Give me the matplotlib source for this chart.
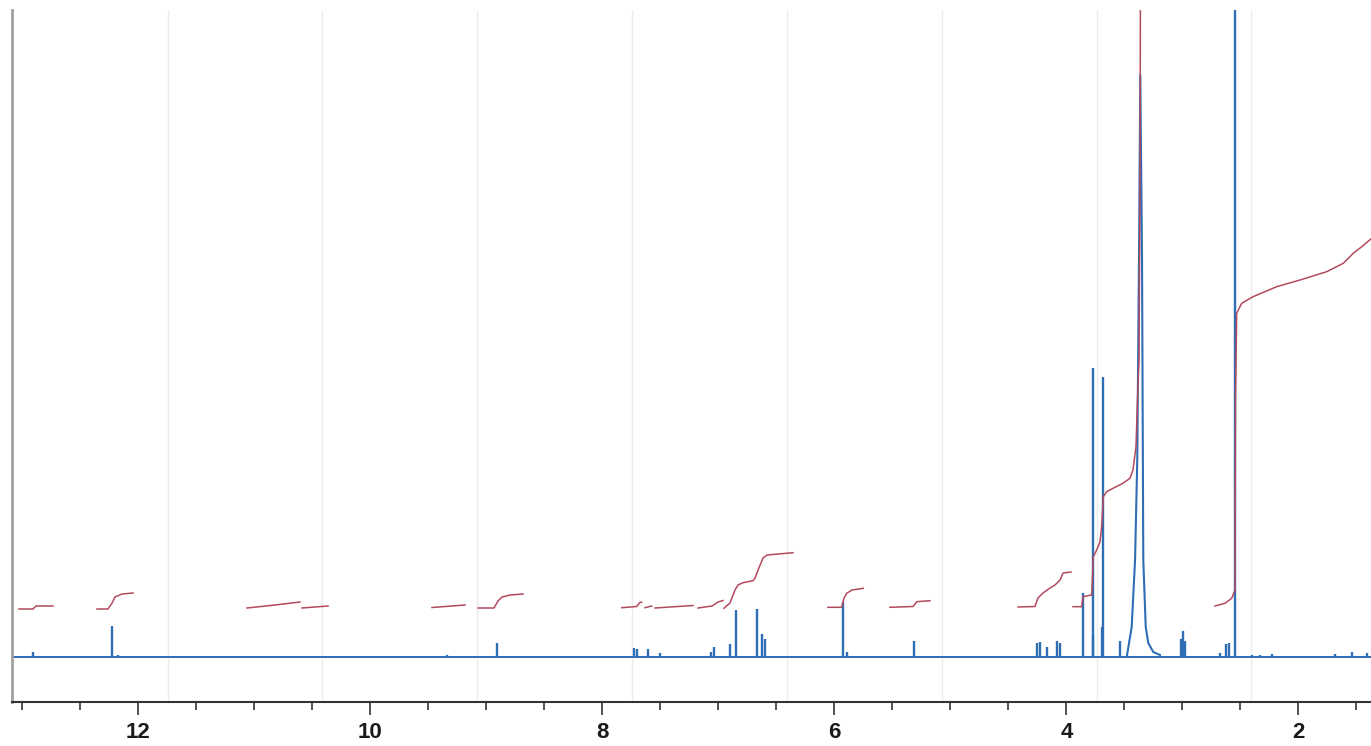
import matplotlib
matplotlib.use('Agg')
import matplotlib.pyplot as plt
from matplotlib.ticker import MultipleLocator, FixedLocator

# --- data (ppm, height above baseline) ---
peak_ppm = [12.909, 12.737, 12.231, 12.177, 9.341, 8.907, 8.211,
            7.728, 7.705, 7.608, 7.504, 7.065, 7.043, 6.901, 6.849,
            6.671, 6.622, 6.600, 5.929, 5.892, 5.312,
            4.254, 4.228, 4.171, 4.082, 4.056, 3.860,
            3.775, 3.769, 3.695, 3.685, 3.543,
            3.010, 2.993, 2.975, 2.677, 2.621, 2.599, 2.547,
            2.403, 2.332, 2.231, 1.685, 1.541, 1.412]
peak_h = [5, 1, 31, 2, 2, 14, 1,
          9, 8, 8, 4, 5, 10, 13, 47,
          48, 23, 18, 55, 5, 16,
          14, 15, 10, 16, 14, 64,
          22, 289, 30, 280, 16,
          18, 26, 16, 4, 13, 14, 800,
          2, 2, 3, 3, 5, 4]

# broad water signal profile
water_ppm = [3.478, 3.438, 3.409, 3.390, 3.375, 3.364, 3.349, 3.338, 3.317, 3.295, 3.252, 3.194]
water_h = [2, 30, 97, 197, 400, 582, 400, 97, 30, 14, 5, 2]

# integral traces (ppm, height)
integrals = [
    ([13.030, 12.909, 12.884, 12.737], [48, 48, 51, 51]),
    ([12.358, 12.263, 12.228, 12.203, 12.142, 12.047], [48, 48, 54, 60, 63, 64]),
    ([11.065, 10.823, 10.608], [49, 52, 55]),
    ([10.591, 10.366], [49, 51]),
    ([9.470, 9.185], [49.5, 52]),
    ([9.073, 8.935, 8.901, 8.866, 8.797, 8.685], [49, 49, 56, 60, 62, 63]),
    ([7.834, 7.705, 7.677, 7.662], [49.3, 50.5, 54.7, 54.7]),
    ([7.634, 7.576], [49.3, 51]),
    ([7.547, 7.220], [49, 51.5]),
    ([7.177, 7.056, 7.004, 6.961], [49, 51, 55, 56.5]),
    ([6.953, 6.901, 6.858, 6.832, 6.789, 6.703, 6.685, 6.659, 6.616, 6.582, 6.358],
     [48.7, 54, 67, 72, 74.3, 76.3, 79, 87, 99, 102, 104.3]),
    ([6.056, 5.938, 5.918, 5.895, 5.849, 5.752], [49.7, 49.7, 59, 63.7, 67, 68.7]),
    ([5.522, 5.323, 5.291, 5.177], [49.7, 50.5, 55.3, 56.3]),
    ([4.418, 4.272, 4.246, 4.203, 4.142, 4.099, 4.056, 4.030, 3.961],
     [50, 50.5, 59, 64, 69, 72, 77, 84, 85]),
    ([3.944, 3.869, 3.858, 3.783, 3.769, 3.740, 3.711, 3.697, 3.683, 3.653, 3.599,
      3.513, 3.453, 3.427, 3.401, 3.386, 3.375, 3.365, 3.362],
     [50.3, 50.3, 60.3, 62, 100.3, 107, 115.3, 130.3, 160.3, 165.3, 168.7,
      173.7, 178.7, 187, 210.3, 264, 297, 500, 760]),
    ([2.720, 2.634, 2.576, 2.547, 2.543, 2.533, 2.490, 2.392, 2.188, 1.987,
      1.757, 1.614, 1.528, 1.455, 1.369],
     [51, 53.7, 58.7, 67, 257, 343.7, 353.7, 360.3, 370.3, 377,
      385.3, 393.7, 403.7, 410.3, 418.7]),
]

grid_ppm = [11.748, 10.414, 9.079, 7.745, 6.410, 5.076, 3.741, 2.407]
tick_labels = ['12', '10', '8', '6', '4', '2']
tick_ppm = [12, 10, 8, 6, 4, 2]

SPEC = '#2f6db5'
INTEG = '#b24a5e'

fig = plt.figure(figsize=(13.71, 7.46), dpi=100)
ax = fig.add_axes([12 / 1371, 44 / 746, 1359 / 1371, 692 / 746])

for g in grid_ppm:
    ax.axvline(g, color='#ececec', lw=1.0, zorder=0)

ax.plot([13.2, 1.2], [0, 0], color=SPEC, lw=1.4, zorder=2)
ax.vlines(peak_ppm, 0, peak_h, color=SPEC, lw=1.7, zorder=3)
ax.plot(water_ppm, water_h, color=SPEC, lw=1.5, zorder=3)

for xs, ys in integrals:
    ax.plot(xs, ys, color=INTEG, lw=1.1, zorder=4)

ax.set_xlim(13.0905, 1.375)
ax.set_ylim(-45, 647)

ax.xaxis.set_major_locator(FixedLocator(tick_ppm))
ax.set_xticklabels(tick_labels, fontsize=16, fontweight='bold',
                   family=['Liberation Sans', 'DejaVu Sans'], color='#1a1a1a')
ax.xaxis.set_minor_locator(MultipleLocator(0.5))
ax.tick_params(axis='x', which='major', direction='out', length=9.5, width=1.3,
               color='#444444', pad=5)
ax.tick_params(axis='x', which='minor', direction='out', length=5.8, width=1.3,
               color='#444444')
ax.set_yticks([])

for side in ['top', 'right']:
    ax.spines[side].set_visible(False)
ax.spines['bottom'].set_color('#333333')
ax.spines['bottom'].set_linewidth(1.5)
ax.spines['left'].set_color('#a0a0a0')
ax.spines['left'].set_linewidth(2.0)

fig.savefig('out.png', dpi=100, facecolor='white')
